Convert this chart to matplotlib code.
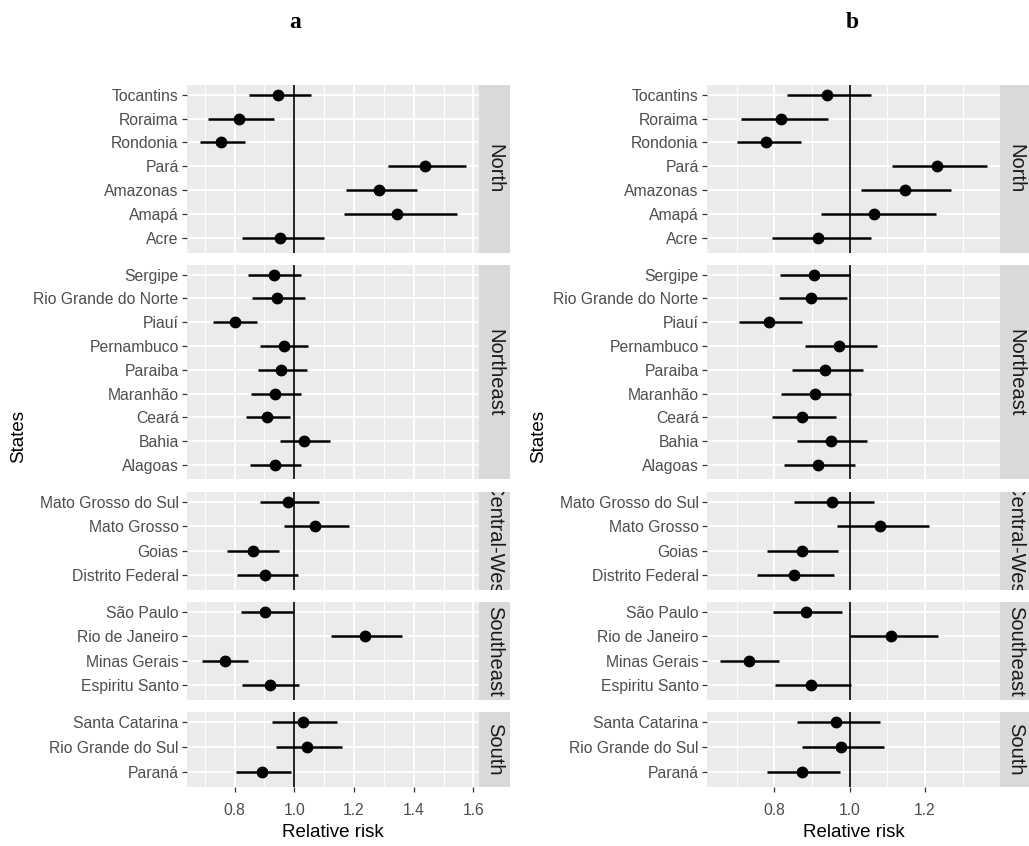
import numpy as np
import matplotlib
matplotlib.use('Agg')
import matplotlib.pyplot as plt

plt.rcParams['font.family'] = ['Liberation Sans', 'DejaVu Sans']

# 1. 数据
regions = ['North', 'Northeast', 'Central-West', 'Southeast', 'South']
states_north = ['Tocantins', 'Roraima', 'Rondonia', 'Pará', 'Amazonas', 'Amapá', 'Acre']
states_northeast = ['Sergipe', 'Rio Grande do Norte', 'Piauí', 'Pernambuco', 'Paraiba',
                    'Maranhão', 'Ceará', 'Bahia', 'Alagoas']
states_cw = ['Mato Grosso do Sul', 'Mato Grosso', 'Goias', 'Distrito Federal']
states_se = ['São Paulo', 'Rio de Janeiro', 'Minas Gerais', 'Espiritu Santo']
states_south = ['Santa Catarina', 'Rio Grande do Sul', 'Paraná']

# panel a
rr_a = [0.946, 0.815, 0.753, 1.438, 1.284, 1.344, 0.953,
        0.931, 0.942, 0.800, 0.965, 0.956, 0.935, 0.910, 1.034, 0.934,
        0.978, 1.070, 0.861, 0.903,
        0.903, 1.237, 0.768, 0.917,
        1.030, 1.044, 0.891]
lo_a = [0.847, 0.710, 0.685, 1.314, 1.173, 1.168, 0.826,
        0.846, 0.859, 0.728, 0.885, 0.877, 0.855, 0.838, 0.953, 0.850,
        0.885, 0.965, 0.776, 0.809,
        0.820, 1.123, 0.692, 0.825,
        0.925, 0.938, 0.803]
hi_a = [1.057, 0.933, 0.834, 1.574, 1.411, 1.544, 1.100,
        1.021, 1.035, 0.876, 1.047, 1.042, 1.021, 0.985, 1.121, 1.021,
        1.083, 1.184, 0.947, 1.011,
        0.994, 1.360, 0.846, 1.016,
        1.143, 1.159, 0.990]

# panel b
rr_b = [0.939, 0.818, 0.779, 1.232, 1.146, 1.064, 0.915,
        0.905, 0.898, 0.786, 0.971, 0.936, 0.908, 0.874, 0.951, 0.915,
        0.954, 1.082, 0.874, 0.853,
        0.885, 1.110, 0.734, 0.898,
        0.964, 0.976, 0.873]
lo_b = [0.833, 0.711, 0.700, 1.112, 1.031, 0.923, 0.795,
        0.815, 0.812, 0.707, 0.881, 0.846, 0.818, 0.794, 0.860, 0.826,
        0.853, 0.968, 0.782, 0.755,
        0.797, 1.001, 0.657, 0.802,
        0.861, 0.875, 0.781]
hi_b = [1.057, 0.942, 0.870, 1.364, 1.270, 1.229, 1.057,
        1.000, 0.993, 0.873, 1.072, 1.037, 1.005, 0.964, 1.047, 1.015,
        1.064, 1.211, 0.970, 0.960,
        0.981, 1.235, 0.814, 1.005,
        1.082, 1.092, 0.974]

xticks_a = [0.8, 1.0, 1.2, 1.4, 1.6]
xticks_b = [0.8, 1.0, 1.2]

state_groups = [states_north, states_northeast, states_cw, states_se, states_south]

# 2. 布局（像素）
W, H = 1029, 846
fig = plt.figure(figsize=(W / 100, H / 100), dpi=100)

top_px, bottom_px = 85, 787
gap_px = 12.5
units = [len(s) + 0.2 for s in state_groups]
unit_px = (bottom_px - top_px - gap_px * (len(units) - 1)) / sum(units)
strip_w = 31


def draw_panel(left_px, right_px, rr, lo, hi, xticks, title, title_x):
    xmin, xmax = min(lo), max(hi)
    pad = (xmax - xmin) * 0.05
    xlim = (xmin - pad, xmax + pad)
    minor = [t + 0.1 for t in xticks[:-1]] + [xticks[0] - 0.1]
    if xlim[1] > xticks[-1] + 0.1:
        minor.append(xticks[-1] + 0.1)

    y0 = top_px
    k = 0
    for gi, (reg, names) in enumerate(zip(regions, state_groups)):
        n = len(names)
        h_px = units[gi] * unit_px
        ax = fig.add_axes([left_px / W, 1 - (y0 + h_px) / H,
                           (right_px - left_px) / W, h_px / H])
        ax.set_facecolor('#EBEBEB')
        for sp in ax.spines.values():
            sp.set_visible(False)
        ax.set_xlim(*xlim)
        ax.set_ylim(-0.6, n - 0.6)
        ypos = np.arange(n)[::-1]
        for m in minor:
            ax.axvline(m, color='white', lw=0.7, zorder=0)
        for t in xticks:
            ax.axvline(t, color='white', lw=1.3, zorder=0)
        for yy in ypos:
            ax.axhline(yy, color='white', lw=1.3, zorder=0)
        ax.axvline(1.0, color='black', lw=1.2, zorder=2)
        ax.hlines(ypos, lo[k:k + n], hi[k:k + n], color='black', lw=1.8, zorder=3)
        ax.plot(rr[k:k + n], ypos, 'o', color='black', ms=7.5, zorder=4)
        ax.set_yticks(ypos)
        ax.set_yticklabels(names)
        ax.set_xticks(xticks)
        ax.tick_params(axis='both', length=3.5, width=0.9, color='#333333',
                       labelcolor='#4D4D4D', labelsize=11.3, pad=2.5)
        if gi < len(regions) - 1:
            ax.tick_params(axis='x', length=0, labelbottom=False)
        else:
            ax.set_xticklabels([f'{t:.1f}' for t in xticks])
            ax.tick_params(axis='x', pad=8)

        # 右侧分面标签
        sax = fig.add_axes([right_px / W, 1 - (y0 + h_px) / H, strip_w / W, h_px / H])
        sax.set_facecolor('#D9D9D9')
        sax.set_xticks([])
        sax.set_yticks([])
        for sp in sax.spines.values():
            sp.set_visible(False)
        sax.text(0.5, 0.5, reg, rotation=-90, ha='center', va='center',
                 fontsize=14.5, color='#1A1A1A', transform=sax.transAxes, clip_on=True)

        k += n
        y0 += h_px + gap_px

    cx = (left_px + right_px) / 2
    fig.text(cx / W, 1 - 832 / H, 'Relative risk', ha='center', va='center',
             fontsize=13.5, color='black')
    fig.text((left_px - 168) / W, 1 - ((top_px + bottom_px) / 2) / H, 'States',
             rotation=90, ha='center', va='center', fontsize=13.5, color='black')
    fig.text(title_x / W, 1 - 23 / H, title, ha='center', va='center',
             fontsize=17, fontweight='bold', family='Liberation Serif')


draw_panel(187, 479, rr_a, lo_a, hi_a, xticks_a, 'a', 295)
draw_panel(707, 1000, rr_b, lo_b, hi_b, xticks_b, 'b', 852)

fig.savefig('out.png', dpi=100)
